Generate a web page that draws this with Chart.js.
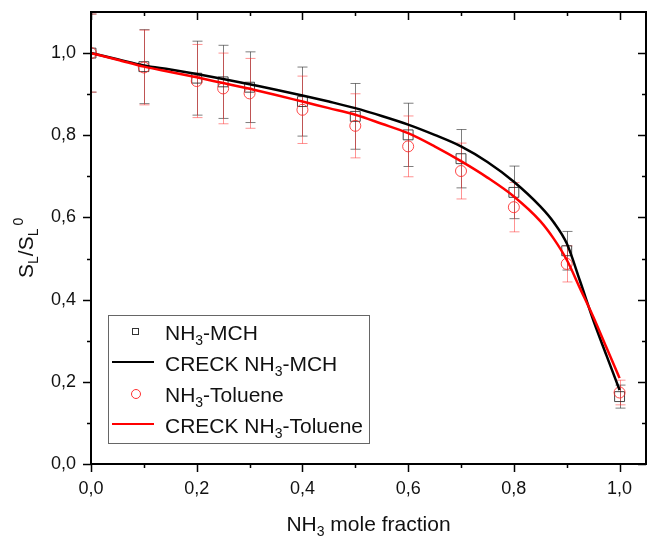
<!DOCTYPE html>
<html>
<head>
<meta charset="utf-8">
<script src="https://cdn.jsdelivr.net/npm/chart.js@4/dist/chart.umd.min.js"></script>
<style>
  html, body { margin: 0; padding: 0; background: #fff; }
  #wrap { width: 654px; height: 536px; }
</style>
</head>
<body>
<div id="wrap"><canvas id="chart-sl" width="654" height="536"></canvas></div>
<script>
// measured points
var expX = [0, 0.1, 0.2, 0.25, 0.3, 0.4, 0.5, 0.6, 0.7, 0.8, 0.9, 1.0];
var mchY = [1.0, 0.967, 0.939, 0.930, 0.917, 0.882, 0.846, 0.801, 0.743, 0.661, 0.519, 0.164];
var mchErr = [0.095, 0.090, 0.090, 0.089, 0.086, 0.084, 0.080, 0.077, 0.071, 0.064, 0.047, 0.028];
var tolY = [1.0, 0.965, 0.932, 0.914, 0.902, 0.862, 0.823, 0.773, 0.713, 0.625, 0.487, 0.174];
var tolErr = [0.095, 0.091, 0.089, 0.086, 0.085, 0.082, 0.078, 0.074, 0.068, 0.060, 0.044, 0.030];

// CRECK model curves
var modelX = [0, 0.05, 0.1, 0.15, 0.2, 0.25, 0.3, 0.35, 0.4, 0.45, 0.5, 0.55, 0.6, 0.65, 0.7, 0.75, 0.8, 0.85, 0.875, 0.9, 0.925, 0.95, 0.975, 1.0];
var creckMch = [1.0, 0.985, 0.970, 0.960, 0.949, 0.937, 0.924, 0.911, 0.897, 0.882, 0.866, 0.847, 0.826, 0.801, 0.773, 0.735, 0.687, 0.627, 0.589, 0.537, 0.446, 0.351, 0.265, 0.180];
var creckTol = [1.0, 0.984, 0.967, 0.954, 0.941, 0.927, 0.913, 0.898, 0.882, 0.866, 0.850, 0.828, 0.805, 0.773, 0.737, 0.697, 0.651, 0.591, 0.549, 0.497, 0.428, 0.359, 0.284, 0.209];

var xTicks = [0, 0.2, 0.4, 0.6, 0.8, 1.0];
var xMinor = [0.1, 0.3, 0.5, 0.7, 0.9];
var yTicks = [0, 0.2, 0.4, 0.6, 0.8, 1.0];
var yMinor = [0.1, 0.3, 0.5, 0.7, 0.9];

var FONT = "'Liberation Sans', Arial, sans-serif";

function pts(xs, ys) {
    return xs.map(function(x, i) { return { x: x, y: ys[i] }; });
}

function fmt(v) {
    return v.toFixed(1).replace('.', ',');
}

// draws text pieces with sub/superscripts, returns total width
function richText(ctx, parts, x, y, size, measureOnly) {
    var cx = x;
    parts.forEach(function(p) {
        var fs = p.s ? Math.round(size * 0.66) : size;
        ctx.font = fs + 'px ' + FONT;
        var dy = p.s === 1 ? size * 0.26 : (p.s === -1 ? -size * 0.5 : 0);
        if (!measureOnly) ctx.fillText(p.t, cx, y + dy);
        cx += ctx.measureText(p.t).width + (p.gap || 0);
    });
    return cx - x;
}

function noPad(s) {
    s.paddingTop = 0; s.paddingBottom = 0; s.paddingLeft = 0; s.paddingRight = 0;
}

var errorBars = {
    id: 'errorBars',
    beforeDatasetsDraw: function(chart) {
        var ctx = chart.ctx, xs = chart.scales.x, ys = chart.scales.y, a = chart.chartArea;
        var sets = [
            { y: mchY, e: mchErr, c: 'rgba(40,40,40,0.6)' },
            { y: tolY, e: tolErr, c: 'rgba(255,40,40,0.5)' }
        ];
        ctx.save();
        ctx.beginPath();
        ctx.rect(a.left, a.top, a.right - a.left, a.bottom - a.top);
        ctx.clip();
        ctx.lineWidth = 1;
        sets.forEach(function(s) {
            ctx.strokeStyle = s.c;
            expX.forEach(function(x, i) {
                var px = Math.round(xs.getPixelForValue(x)) + 0.5;
                var top = ys.getPixelForValue(s.y[i] + s.e[i]);
                var bot = ys.getPixelForValue(s.y[i] - s.e[i]);
                ctx.beginPath();
                ctx.moveTo(px, top); ctx.lineTo(px, bot);
                ctx.moveTo(px - 5, top); ctx.lineTo(px + 5, top);
                ctx.moveTo(px - 5, bot); ctx.lineTo(px + 5, bot);
                ctx.stroke();
            });
        });
        ctx.restore();
    }
};

var frameAndText = {
    id: 'frameAndText',
    afterDraw: function(chart) {
        var ctx = chart.ctx, xs = chart.scales.x, ys = chart.scales.y, a = chart.chartArea;
        ctx.save();
        ctx.strokeStyle = '#000';
        ctx.lineWidth = 2;
        ctx.strokeRect(a.left, a.top, a.right - a.left, a.bottom - a.top);

        ctx.lineWidth = 1.5;
        ctx.beginPath();
        function xt(list, len) {
            list.forEach(function(v) {
                var px = Math.round(xs.getPixelForValue(v)) + 0.5;
                ctx.moveTo(px, a.bottom); ctx.lineTo(px, a.bottom + len);
                ctx.moveTo(px, a.top); ctx.lineTo(px, a.top + len);
            });
        }
        function yt(list, len) {
            list.forEach(function(v) {
                var py = Math.round(ys.getPixelForValue(v)) + 0.5;
                ctx.moveTo(a.left, py); ctx.lineTo(a.left - len, py);
                ctx.moveTo(a.right, py); ctx.lineTo(a.right - len, py);
            });
        }
        xt(xTicks, 8); xt(xMinor, 4);
        yt(yTicks, 8); yt(yMinor, 4);
        ctx.stroke();

        // axis titles
        ctx.fillStyle = '#111';
        ctx.textBaseline = 'alphabetic';
        ctx.textAlign = 'left';
        var xt1 = [{ t: 'NH' }, { t: '3', s: 1 }, { t: ' mole fraction' }];
        var w = richText(ctx, xt1, 0, 0, 21, true);
        richText(ctx, xt1, (a.left + a.right) / 2 - w / 2, 531, 21);

        ctx.save();
        ctx.translate(33, 278);
        ctx.rotate(-Math.PI / 2);
        richText(ctx, [{ t: 'S' }, { t: 'L', s: 1 }, { t: '/S' }, { t: 'L', s: 1, gap: 3 }, { t: '0', s: -1 }], 0, 0, 21);
        ctx.restore();

        // legend
        ctx.strokeStyle = '#666';
        ctx.lineWidth = 1;
        ctx.strokeRect(108.5, 315.5, 261, 128);
        var rows = [
            { c: 332, kind: 'sq', parts: [{ t: 'NH' }, { t: '3', s: 1 }, { t: '-MCH' }] },
            { c: 363, kind: 'ln', col: '#000', parts: [{ t: 'CRECK NH' }, { t: '3', s: 1 }, { t: '-MCH' }] },
            { c: 394, kind: 'ci', parts: [{ t: 'NH' }, { t: '3', s: 1 }, { t: '-Toluene' }] },
            { c: 425, kind: 'ln', col: '#ff0000', parts: [{ t: 'CRECK NH' }, { t: '3', s: 1 }, { t: '-Toluene' }] }
        ];
        rows.forEach(function(r) {
            if (r.kind === 'sq') {
                ctx.strokeStyle = '#333'; ctx.lineWidth = 1;
                ctx.strokeRect(132.5, r.c - 3.5, 6, 6);
            } else if (r.kind === 'ci') {
                ctx.strokeStyle = '#ff3030'; ctx.lineWidth = 1;
                ctx.beginPath(); ctx.arc(136, r.c, 4.5, 0, Math.PI * 2); ctx.stroke();
            } else {
                ctx.strokeStyle = r.col; ctx.lineWidth = 2;
                ctx.beginPath(); ctx.moveTo(112, r.c - 1); ctx.lineTo(154, r.c - 1); ctx.stroke();
            }
            ctx.fillStyle = '#111';
            richText(ctx, r.parts, 165, r.c + 7.5, 21);
        });
        ctx.restore();
    }
};

document.addEventListener('DOMContentLoaded', function() {
    Chart.defaults.font.family = FONT;
    var el = document.getElementById('chart-sl');
    new Chart(el.getContext('2d'), {
        type: 'scatter',
        data: {
            datasets: [
                { label: 'CRECK NH3-MCH', data: pts(modelX, creckMch), showLine: true, borderColor: '#000', borderWidth: 2.5,
                  pointRadius: 0, cubicInterpolationMode: 'monotone', order: 1 },
                { label: 'CRECK NH3-Toluene', data: pts(modelX, creckTol), showLine: true, borderColor: '#ff0000', borderWidth: 2.5,
                  pointRadius: 0, cubicInterpolationMode: 'monotone', order: 0 },
                { label: 'NH3-MCH', data: pts(expX, mchY), pointStyle: 'rect', pointRadius: 7, borderColor: 'rgba(40,40,40,0.85)',
                  backgroundColor: 'rgba(0,0,0,0)', borderWidth: 1, order: 3 },
                { label: 'NH3-Toluene', data: pts(expX, tolY), pointStyle: 'circle', pointRadius: 5.5, borderColor: 'rgba(255,40,40,0.85)',
                  backgroundColor: 'rgba(0,0,0,0)', borderWidth: 1, order: 2 }
            ]
        },
        options: {
            responsive: false,
            animation: false,
            layout: { padding: { top: 12, right: 4, left: 0, bottom: 0 } },
            plugins: { legend: { display: false }, tooltip: { enabled: false } },
            scales: {
                x: {
                    type: 'linear', min: 0, max: 1.05,
                    grid: { display: false, drawTicks: false },
                    border: { display: false },
                    afterBuildTicks: function(s) { s.ticks = xTicks.map(function(v) { return { value: v }; }); },
                    afterFit: function(s) { s.height = 72; noPad(s); },
                    ticks: { color: '#111', font: { size: 18 }, padding: 14, maxRotation: 0, autoSkip: false,
                             callback: function(v) { return fmt(v); } }
                },
                y: {
                    type: 'linear', min: 0, max: 1.1,
                    grid: { display: false, drawTicks: false },
                    border: { display: false },
                    afterBuildTicks: function(s) { s.ticks = yTicks.map(function(v) { return { value: v }; }); },
                    afterFit: function(s) { s.width = 91; noPad(s); },
                    ticks: { color: '#111', font: { size: 18 }, padding: 15, autoSkip: false,
                             callback: function(v) { return fmt(v); } }
                }
            }
        },
        plugins: [errorBars, frameAndText]
    });
});
</script>
</body>
</html>
